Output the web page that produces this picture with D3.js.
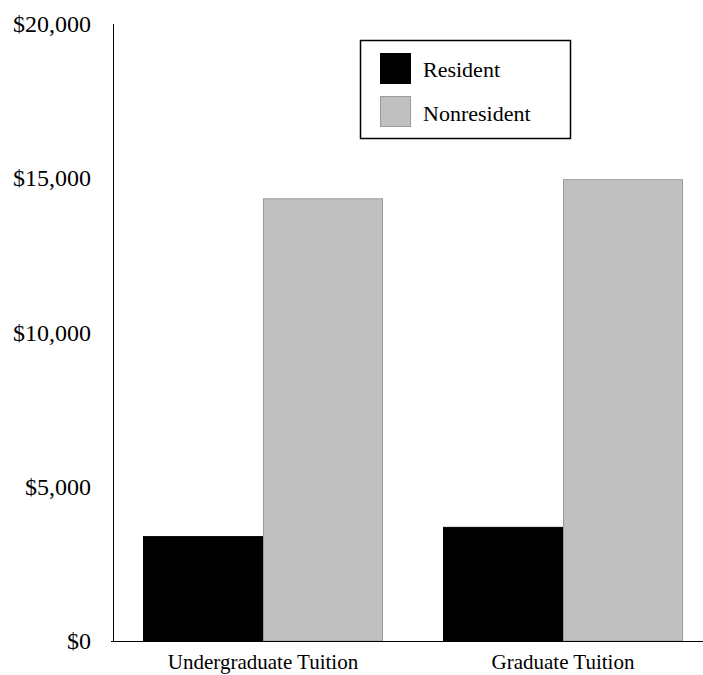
<!DOCTYPE html>
<html><head><meta charset="utf-8">
<script src="https://cdn.jsdelivr.net/npm/d3@7/dist/d3.min.js"></script>
<style>body{margin:0;background:#fff}svg{display:block}</style>
</head><body><svg id="c" width="703" height="675"></svg>
<script>
const categories = ["Undergraduate Tuition", "Graduate Tuition"];
const seriesNames = ["Resident", "Nonresident"];
const resident = [3400, 3700];
const nonresident = [14350, 14970];
const tickValues = [0, 5000, 10000, 15000, 20000];
const tickLabels = ["$0", "$5,000", "$10,000", "$15,000", "$20,000"];
const colors = ["#000000", "#c0c0c0"];
const strokes = ["#000000", "#9a9a9a"];

const svg = d3.select("#c");
const x0 = 113.5, yTop = 24, yBot = 641;
const y = d3.scaleLinear().domain([0, 20000]).range([yBot, yTop]);
const xg = d3.scaleBand().domain(categories).range([113, 713]).paddingInner(0.2).paddingOuter(0.1);
const xs = d3.scaleBand().domain(seriesNames).range([0, xg.bandwidth()]);

const data = [];
categories.forEach((c, i) => {
  data.push({c, s: "Resident", v: resident[i], k: 0});
  data.push({c, s: "Nonresident", v: nonresident[i], k: 1});
});

svg.append("g").selectAll("rect").data(data).join("rect")
  .attr("x", d => xg(d.c) + xs(d.s) + 0.5)
  .attr("y", d => y(d.v) + 0.5)
  .attr("width", xs.bandwidth() - 1)
  .attr("height", d => yBot - y(d.v) - 0.5)
  .attr("fill", d => colors[d.k])
  .attr("stroke", d => strokes[d.k])
  .attr("stroke-width", 1);

// axes lines
svg.append("line").attr("x1", x0).attr("x2", x0).attr("y1", yTop).attr("y2", yBot).attr("stroke", "#000").attr("stroke-width", 1);
svg.append("line").attr("x1", 111).attr("x2", 703).attr("y1", yBot + 0.5).attr("y2", yBot + 0.5).attr("stroke", "#000").attr("stroke-width", 1);

// y tick labels
svg.append("g").selectAll("text").data(tickValues).join("text")
  .attr("x", 91).attr("y", d => y(d) + 8)
  .attr("text-anchor", "end")
  .attr("font-family", "Liberation Serif, Times New Roman, serif")
  .attr("font-size", 24)
  .text((d, i) => tickLabels[i]);

// category labels
svg.append("g").selectAll("text").data(categories).join("text")
  .attr("x", d => xg(d) + xg.bandwidth() / 2)
  .attr("y", 669)
  .attr("text-anchor", "middle")
  .attr("font-family", "Liberation Serif, Times New Roman, serif")
  .attr("font-size", 21)
  .text(d => d);

// legend
const lg = svg.append("g");
lg.append("rect").attr("x", 360.5).attr("y", 40.5).attr("width", 210).attr("height", 98)
  .attr("fill", "#fff").attr("stroke", "#000").attr("stroke-width", 1.5);
seriesNames.forEach((s, i) => {
  lg.append("rect").attr("x", 380.5).attr("y", 53.5 + i * 43).attr("width", 30).attr("height", 30)
    .attr("fill", colors[i]).attr("stroke", strokes[i]);
  lg.append("text").attr("x", 423).attr("y", 77 + i * 44)
    .attr("font-family", "Liberation Serif, Times New Roman, serif")
    .attr("font-size", 22).text(s);
});
</script></body></html>
